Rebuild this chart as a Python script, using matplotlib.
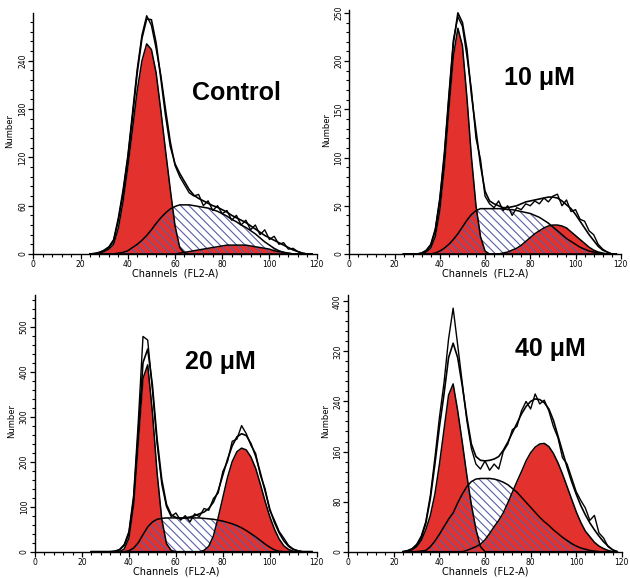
import matplotlib
matplotlib.use('Agg')
import matplotlib.pyplot as plt
from matplotlib.ticker import MultipleLocator

plt.rcParams['hatch.linewidth'] = 0.8

RED = '#e3312d'
HATCH = '#5b5ea6'

# canali FL2-A (passo 2)
channels = list(range(24, 120, 2))

# Control
ctrl_g1 = [0, 0, 1, 3, 6, 12, 32, 65,
           108, 155, 203, 240, 261, 254, 225, 178,
           128, 80, 35, 8, 1, 0, 0, 0,
           0, 0, 0, 0, 0, 0, 0, 0,
           0, 0, 0, 0, 0, 0, 0, 0,
           0, 0, 0, 0, 0, 0, 0, 0]
ctrl_s = [0, 0, 0, 0, 0, 0, 1, 2,
          4, 8, 12, 17, 23, 30, 38, 45,
          51, 56, 59, 61, 61, 61, 60, 59,
          58, 57, 55, 53, 50, 47, 43, 40,
          36, 33, 29, 25, 20, 15, 11, 7,
          4, 2, 1, 0, 0, 0, 0, 0]
ctrl_g2 = [0, 0, 0, 0, 0, 0, 0, 0,
           0, 0, 0, 0, 0, 0, 0, 0,
           0, 0, 0, 1, 2, 3, 4, 5,
           6, 7, 8, 9, 10, 11, 11, 11,
           11, 11, 10, 9, 8, 7, 6, 4,
           3, 2, 1, 0, 0, 0, 0, 0]
ctrl_fit = [0, 0, 2, 4, 8, 16, 42, 75,
            118, 170, 225, 268, 292, 291, 262, 218,
            172, 134, 112, 100, 90, 80, 73, 69,
            66, 63, 60, 58, 55, 52, 48, 45,
            42, 39, 35, 31, 27, 23, 20, 17,
            14, 11, 8, 5, 3, 1, 0, 0]
ctrl_raw = [0, 1, 2, 5, 9, 18, 45, 80,
            122, 176, 230, 272, 296, 284, 255, 222,
            180, 140, 110, 96, 86, 76, 72, 74,
            60, 66, 54, 60, 50, 54, 42, 48,
            36, 42, 30, 36, 24, 30, 18, 22,
            12, 14, 6, 7, 3, 1, 0, 0]

# 10 uM
c10_g1 = [0, 0, 0, 0, 0, 2, 6, 18,
          45, 90, 150, 205, 234, 216, 162, 100,
          50, 18, 3, 0, 0, 0, 0, 0,
          0, 0, 0, 0, 0, 0, 0, 0,
          0, 0, 0, 0, 0, 0, 0, 0,
          0, 0, 0, 0, 0, 0, 0, 0]
c10_s = [0, 0, 0, 0, 0, 0, 0, 1,
         3, 6, 10, 15, 21, 28, 35, 41,
         45, 47, 47, 47, 47, 47, 47, 46,
         46, 45, 44, 43, 42, 40, 38, 35,
         32, 28, 24, 20, 16, 13, 10, 7,
         5, 3, 2, 1, 0, 0, 0, 0]
c10_g2 = [0, 0, 0, 0, 0, 0, 0, 0,
          0, 0, 0, 0, 0, 0, 0, 0,
          0, 0, 0, 0, 0, 0, 1, 2,
          4, 6, 9, 13, 17, 21, 24, 27,
          29, 30, 30, 29, 27, 23, 19, 15,
          11, 7, 4, 2, 1, 0, 0, 0]
c10_fit = [0, 0, 0, 0, 1, 3, 9, 24,
           55, 100, 160, 218, 250, 240, 212, 165,
           128, 92, 65, 55, 52, 50, 48, 48,
           49, 50, 52, 54, 55, 56, 57, 58,
           59, 59, 58, 55, 51, 47, 41, 34,
           27, 20, 14, 8, 4, 2, 0, 0]
c10_raw = [0, 0, 0, 0, 1, 4, 10, 26,
           58, 105, 165, 222, 246, 236, 205, 170,
           120, 98, 60, 52, 48, 55, 45, 50,
           40, 48, 46, 52, 50, 55, 52, 58,
           54, 60, 62, 50, 56, 44, 46, 36,
           34, 24, 20, 10, 5, 2, 0, 0]

# 20 uM
c20_g1 = [0, 0, 0, 0, 0, 0, 0, 6,
          30, 105, 245, 385, 415, 310, 175, 72,
          18, 3, 0, 0, 0, 0, 0, 0,
          0, 0, 0, 0, 0, 0, 0, 0,
          0, 0, 0, 0, 0, 0, 0, 0,
          0, 0, 0, 0, 0, 0, 0, 0]
c20_s = [0, 0, 0, 0, 0, 0, 0, 0,
         2, 8, 20, 38, 55, 66, 72, 74,
         75, 75, 75, 75, 75, 75, 75, 75,
         74, 73, 72, 70, 68, 65, 62, 58,
         53, 47, 40, 33, 25, 17, 10, 4,
         1, 0, 0, 0, 0, 0, 0, 0]
c20_g2 = [0, 0, 0, 0, 0, 0, 0, 0,
          0, 0, 0, 0, 0, 0, 0, 0,
          0, 0, 0, 0, 0, 0, 0, 0,
          3, 12, 35, 75, 120, 165, 200, 222,
          230, 226, 210, 185, 150, 112, 78, 50,
          28, 13, 5, 1, 0, 0, 0, 0]
c20_fit = [0, 0, 0, 0, 0, 1, 4, 14,
           40, 115, 265, 420, 450, 370, 250, 160,
           105, 82, 76, 74, 75, 77, 80, 84,
           88, 96, 110, 135, 170, 205, 235, 255,
           262, 258, 240, 212, 175, 135, 95, 65,
           42, 24, 12, 5, 2, 0, 0, 0]
c20_raw = [0, 0, 0, 0, 0, 1, 5, 16,
           45, 125, 290, 478, 470, 360, 240, 150,
           100, 78, 86, 70, 80, 66, 84, 78,
           96, 92, 118, 130, 178, 200, 245, 250,
           280, 262, 236, 218, 170, 140, 92, 70,
           45, 30, 14, 6, 2, 0, 0, 0]

# 40 uM
c40_g1 = [0, 1, 3, 8, 18, 35, 58, 92,
          140, 195, 250, 268, 225, 175, 122, 75,
          36, 8, 0, 0, 0, 0, 0, 0,
          0, 0, 0, 0, 0, 0, 0, 0,
          0, 0, 0, 0, 0, 0, 0, 0,
          0, 0, 0, 0, 0, 0, 0, 0]
c40_s = [0, 0, 0, 0, 1, 2, 8, 17,
         28, 40, 52, 62, 78, 92, 104, 112,
         116, 117, 117, 117, 116, 114, 111, 107,
         101, 95, 87, 79, 71, 63, 55, 48,
         42, 35, 29, 23, 18, 13, 9, 6,
         4, 2, 1, 0, 0, 0, 0, 0]
c40_g2 = [0, 0, 0, 0, 0, 0, 0, 0,
          0, 0, 0, 0, 0, 0, 2, 5,
          8, 12, 19, 29, 40, 50, 62, 78,
          95, 112, 128, 145, 158, 167, 172, 173,
          168, 157, 142, 124, 104, 84, 64, 47,
          33, 24, 15, 9, 5, 2, 0, 0]
c40_fit = [0, 1, 4, 10, 22, 45, 85, 140,
           200, 252, 310, 333, 310, 265, 215, 172,
           152, 146, 145, 146, 148, 152, 162, 175,
           190, 205, 220, 232, 240, 244, 243, 238,
           228, 210, 185, 160, 135, 112, 92, 74,
           59, 46, 35, 25, 16, 9, 3, 0]
c40_raw = [0, 2, 5, 12, 25, 48, 90, 150,
           215, 270, 340, 389, 330, 270, 210, 165,
           140, 132, 145, 130, 140, 132, 160, 172,
           195, 200, 225, 240, 228, 252, 236, 242,
           225, 200, 182, 150, 140, 118, 96, 82,
           70, 50, 58, 30, 22, 8, 3, 0]


def draw_panel(ax, g1, s, g2, fit, raw, ymax, ymajor, yminor, title, tx, ty):
    ax.fill_between(channels, g1, color=RED, lw=0, zorder=1)
    ax.fill_between(channels, g2, color=RED, lw=0, zorder=1)
    ax.fill_between(channels, s, facecolor='none', edgecolor=HATCH,
                    hatch='\\\\\\\\', lw=0, zorder=2)
    for comp in (g1, s, g2):
        ax.plot(channels, comp, color='k', lw=1.1, zorder=3)
    ax.plot(channels, fit, color='k', lw=1.2, zorder=4)
    ax.plot(channels, raw, color='k', lw=1.0, zorder=4)

    ax.set_xlim(0, 120)
    ax.set_ylim(0, ymax)
    ax.spines['top'].set_visible(False)
    ax.spines['right'].set_visible(False)
    ax.spines['left'].set_linewidth(1.0)
    ax.spines['bottom'].set_linewidth(1.0)
    ax.xaxis.set_major_locator(MultipleLocator(20))
    ax.xaxis.set_minor_locator(MultipleLocator(4))
    ax.yaxis.set_major_locator(MultipleLocator(ymajor))
    ax.yaxis.set_minor_locator(MultipleLocator(yminor))
    ax.tick_params(which='major', direction='out', length=3.5, width=0.9,
                   labelsize=5.5, pad=1)
    ax.tick_params(which='minor', direction='out', length=2.5, width=0.8)
    for lab in ax.get_yticklabels():
        lab.set_rotation(90)
        lab.set_va('center')
    ax.set_xlabel('Channels  (FL2-A)', fontsize=7, labelpad=-0.5)
    ax.set_ylabel('Number', fontsize=6)
    ax.yaxis.set_label_coords(-0.068, 0.51)
    ax.text(tx, ty, title, fontsize=18, fontweight='bold',
            family='Liberation Sans', ha='center', va='center')


fig = plt.figure(figsize=(6.3, 5.78), dpi=100)
ax1 = fig.add_axes([0.0529, 0.5606, 0.4498, 0.4164])
ax2 = fig.add_axes([0.5544, 0.5606, 0.4310, 0.4221])
ax3 = fig.add_axes([0.0556, 0.0455, 0.4471, 0.4441])
ax4 = fig.add_axes([0.5529, 0.0455, 0.4340, 0.4441])

draw_panel(ax1, ctrl_g1, ctrl_s, ctrl_g2, ctrl_fit, ctrl_raw,
           299, 60, 12, 'Control', 86, 200)
draw_panel(ax2, c10_g1, c10_s, c10_g2, c10_fit, c10_raw,
           253, 50, 10, '10 μM', 84, 182)
draw_panel(ax3, c20_g1, c20_s, c20_g2, c20_fit, c20_raw,
           570, 100, 20, '20 μM', 79, 421)
draw_panel(ax4, c40_g1, c40_s, c40_g2, c40_fit, c40_raw,
           410, 80, 16, '40 μM', 88.6, 323)

fig.savefig('out.png', dpi=100)
